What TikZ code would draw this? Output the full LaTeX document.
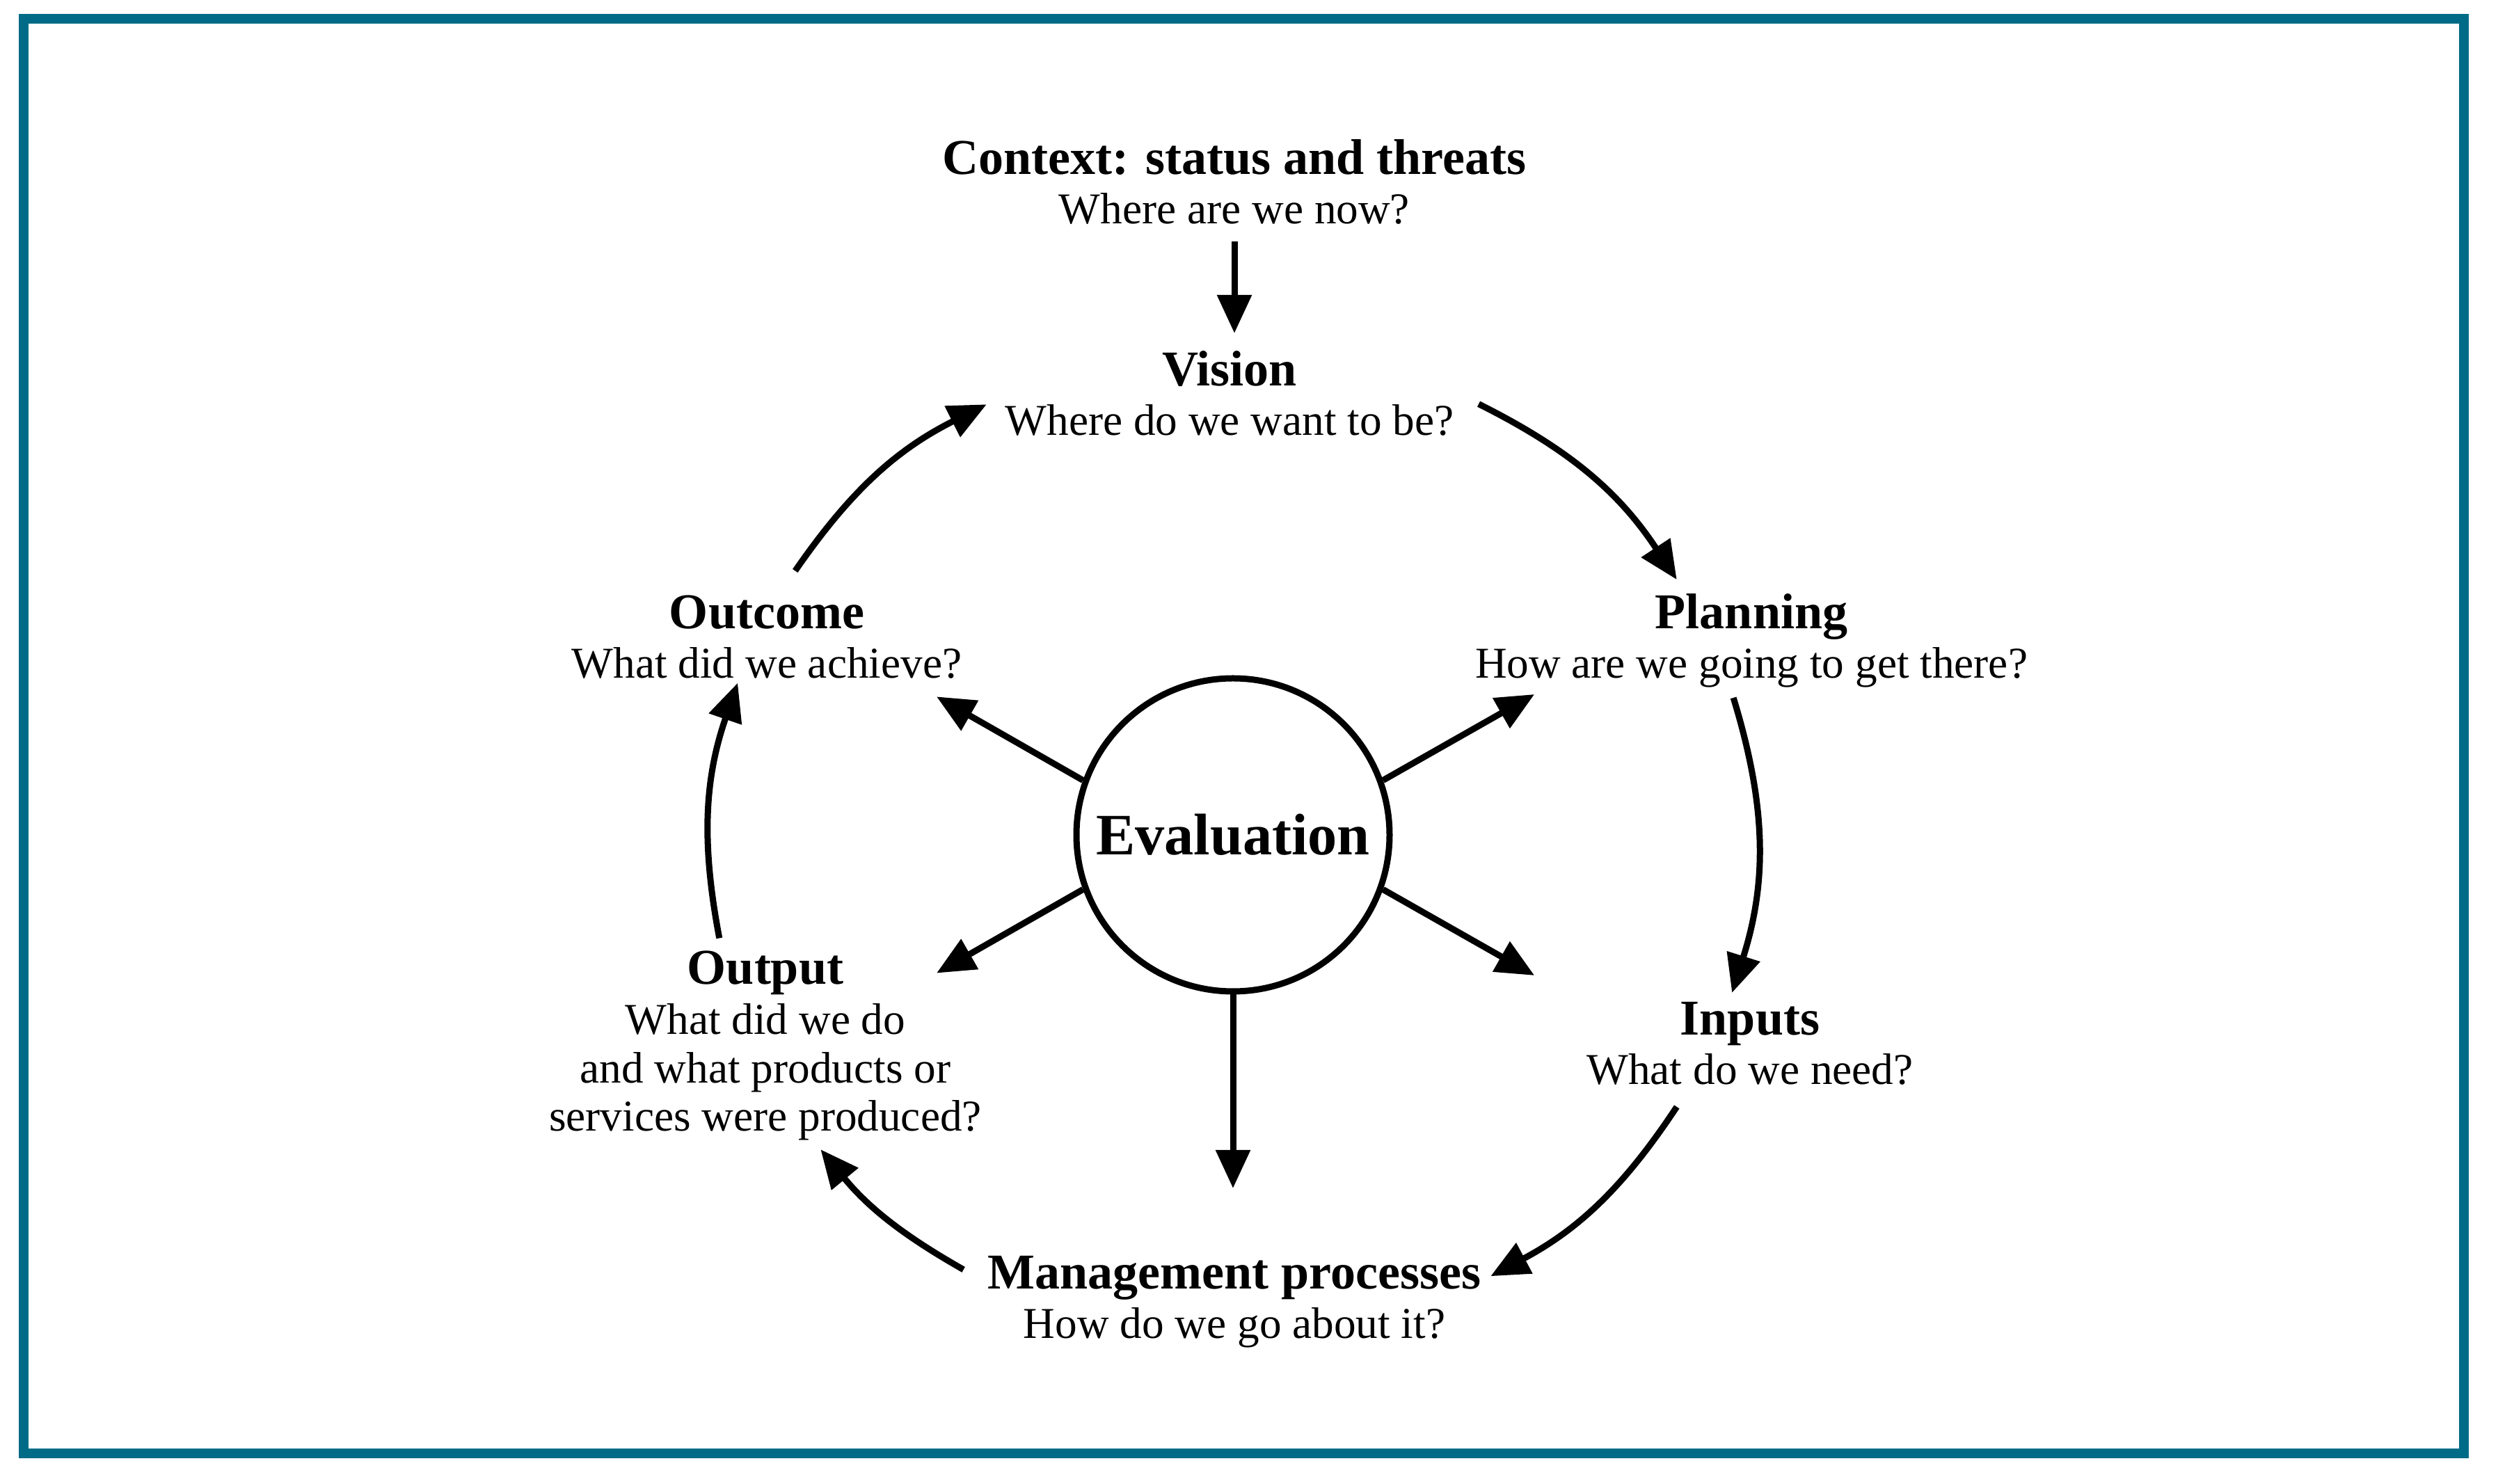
\documentclass[tikz,border=0pt]{standalone}
\usepackage{fontspec}
\setmainfont{Liberation Serif}
\usetikzlibrary{arrows.meta,calc,positioning}
\definecolor{framecol}{RGB}{0,107,135}
\newcommand{\headfont}{\fontsize{20.5}{24}\selectfont\bfseries}
\newcommand{\askfont}{\fontsize{18}{19.9}\selectfont}

\begin{document}
\begin{tikzpicture}[
	head/.style={font=\headfont, inner sep=0pt, anchor=base},
	ask/.style={font=\askfont, inner sep=0pt, anchor=base, align=center},
	flow/.style={line width=0.09cm, -{Triangle[length=0.55cm,width=0.48cm]}},
]
	\useasboundingbox (0,0) rectangle (35.90,21.33);
	\draw[framecol, line width=0.14cm] (0.34,0.44) rectangle (35.41,21.06);

	\node[circle, draw, line width=0.09cm, minimum size=4.5cm, inner sep=0pt,
		font=\fontsize{24}{28}\selectfont\bfseries] (eval) at (17.72,9.33) {Evaluation};
	\coordinate (hub) at ($(eval)+(0,-0.12)$);

	\node[head] (context) at (17.74,18.82) {Context: status and threats};
	\node[ask] (context-q) at ($(context.base)+(0,-0.71)$) {Where are we now?};
	\node[head] (vision) at (17.67,15.78) {Vision};
	\node[ask] (vision-q) at ($(vision.base)+(0,-0.71)$) {Where do we want to be?};
	\node[head] (planning) at (25.17,12.29) {Planning};
	\node[ask] (planning-q) at ($(planning.base)+(0,-0.71)$) {How are we going to get there?};
	\node[head] (inputs) at (25.15,6.45) {Inputs};
	\node[ask] (inputs-q) at ($(inputs.base)+(0,-0.71)$) {What do we need?};
	\node[head] (manage) at (17.74,2.80) {Management processes};
	\node[ask] (manage-q) at ($(manage.base)+(0,-0.71)$) {How do we go about it?};
	\node[head] (output) at (11.00,7.18) {Output};
	\node[ask] (output-q) at ($(output.base)+(0,-2.11)$) {What did we do\\and what products or\\services were produced?};
	\node[head] (outcome) at (11.02,12.29) {Outcome};
	\node[ask] (outcome-q) at ($(outcome.base)+(0,-0.71)$) {What did we achieve?};

	\draw[flow] ([yshift=-0.25cm]context-q.base) -- ++(0,-1.32);

	% the cycle, clockwise round the evaluation
	\foreach \from/\to/\name in {62/32/vp, 17/-17.5/pi, -32/-60.5/im, -121/-142/mo, -169/-198.8/oo, 146.8/118.1/ov} {
		\coordinate (\name-a) at ($(hub)+(\from:7.52 and 7.15)$);
		\coordinate (\name-b) at ($(hub)+(\to:7.52 and 7.15)$);
		\pgfmathsetmacro\bend{(\from-\to)/2}
		\draw[flow] (\name-a) to[bend left=\bend] (\name-b);
	}

	% spokes
	\foreach \from/\to/\len/\name in {160/155/4.7/s1, 20/25/4.78/s2, 340/-25/4.78/s3, 200/-155/4.7/s4, 270/-90/5.08/s5} {
		\coordinate (\name) at ($(eval)+(\to:\len)$);
		\draw[flow] (eval.\from) -- (\name);
	}
\end{tikzpicture}
\end{document}
